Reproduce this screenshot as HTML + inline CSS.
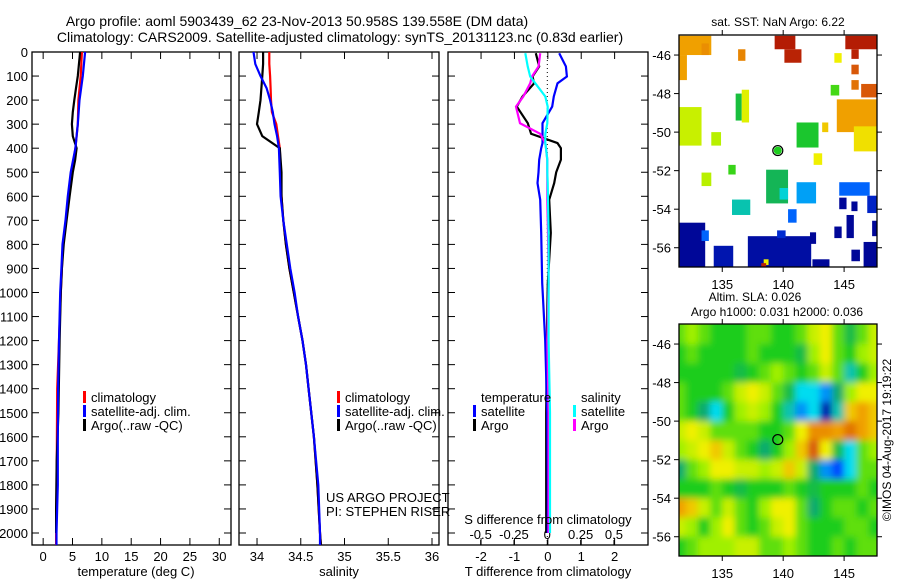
<!DOCTYPE html>
<html><head><meta charset="utf-8">
<style>
html,body{margin:0;padding:0;background:#fff;}
svg{display:block;font-family:"Liberation Sans",sans-serif;}
</style></head>
<body>
<svg id="chart" width="900" height="580" viewBox="0 0 900 580" xmlns="http://www.w3.org/2000/svg">
<defs>
<filter id="blur" x="-10%" y="-10%" width="120%" height="120%"><feGaussianBlur stdDeviation="3.5"/></filter>
<clipPath id="clipMap2"><rect x="679" y="324" width="198" height="232"/></clipPath>
<clipPath id="clipMap1"><rect x="679" y="35" width="198" height="232"/></clipPath>
</defs>
<text x="297" y="26" font-size="14" text-anchor="middle">Argo profile: aoml 5903439_62 23-Nov-2013 50.958S 139.558E (DM data)</text>
<text x="340" y="42" font-size="14" text-anchor="middle">Climatology: CARS2009. Satellite-adjusted climatology: synTS_20131123.nc (0.83d earlier)</text>
<text x="778" y="26" font-size="12" text-anchor="middle">sat. SST: NaN Argo: 6.22</text>
<text x="755" y="301" font-size="12" text-anchor="middle">Altim. SLA: 0.026</text>
<text x="777" y="316" font-size="12" text-anchor="middle">Argo h1000: 0.031 h2000: 0.036</text>
<text transform="translate(891,440) rotate(-90)" font-size="12" text-anchor="middle">©IMOS 04-Aug-2017 19:19:22</text>
<g id="g"></g>
</svg>
<script>
// ---------- profile data ----------
const tempDepth = [0,100,200,300,400,500,600,700,800,900,1000,1200,1400,1600,1800,2000,2050];
const tempClim  = [6.6,6.4,6.0,5.9,5.5,4.9,4.3,3.9,3.35,3.2,3.0,2.7,2.4,2.35,2.3,2.2,2.2];
const tempSat   = [7.15,6.75,6.2,5.9,5.5,4.7,4.2,3.8,3.3,3.1,2.9,2.7,2.55,2.5,2.5,2.27,2.27];
const argoDepth = [0,100,150,200,250,300,350,400,450,500,600,700,800,900,1000,1200,1500,1700,1900,2000];
const tempArgo  = [6.3,5.9,5.6,5.3,5.05,4.9,5.05,5.7,5.45,5.05,4.5,4.0,3.5,3.2,3.0,2.8,2.6,2.3,2.2,2.2];
const salDepth  = [0,50,100,150,200,250,300,350,400,500,600,700,800,900,1000,1100,1200,1300,1400,1600,1800,2000,2050];
const salClim   = [34.14,34.14,34.15,34.155,34.16,34.17,34.22,34.24,34.26,34.27,34.28,34.3,34.33,34.37,34.42,34.47,34.52,34.56,34.59,34.65,34.69,34.72,34.73];
const salSat    = [33.96,33.98,34.04,34.11,34.15,34.18,34.2,34.23,34.25,34.26,34.27,34.3,34.34,34.38,34.43,34.47,34.52,34.56,34.59,34.65,34.7,34.72,34.72];
const salArgo   = [34.07,34.07,34.06,34.05,34.04,34.02,34.0,34.06,34.26,34.28,34.28,34.3,34.33,34.37,34.42,34.47,34.52,34.56,34.59,34.65,34.69,34.72,34.73];
const diffDepth = [5,60,102,130,185,227,296,340,379,400,448,500,545,614,752,960,1200,1500,1800,2000];
const dTsat     = [0.34,0.54,0.57,0.29,0.18,0.13,-0.16,-0.16,-0.16,-0.2,-0.26,-0.28,-0.31,-0.23,-0.2,-0.17,-0.08,-0.02,0.0,0.0];
const dTargo    = [-0.36,-0.26,-0.46,-0.41,-0.76,-0.93,-0.6,-0.5,0.29,0.39,0.39,0.25,0.19,0.04,0.09,0.0,-0.03,-0.05,-0.05,-0.05];
const dSargo    = [-0.053,-0.065,-0.115,-0.128,-0.18,-0.235,-0.205,-0.053,-0.015,-0.01,0.0,0.0,0.0,0.0,0.005,0.01,0.0,0.01,0.01,0.01];
const dSsat     = [-0.165,-0.147,-0.128,-0.09,-0.015,0.003,0.0,-0.015,-0.015,-0.01,0.0,0.0,0.003,0.005,0.01,0.01,0.01,0.02,0.02,0.02];
const depthTicks = [0,100,200,300,400,500,600,700,800,900,1000,1100,1200,1300,1400,1500,1600,1700,1800,1900,2000];
const tempTicks = [0,5,10,15,20,25,30];
const salTicks = [34,34.5,35,35.5,36];
const salTickLabels = ["34","34.5","35","35.5","36"];
const tdTicks = [-2,-1,0,1,2];
const sdTicks = [-0.5,-0.25,0,0.25,0.5];
const sdTickLabels = ["-0.5","-0.25","0","0.25","0.5"];
// ---------- map data ----------
const mapLonTicks = [135,140,145];
const mapLatTicks = [-46,-48,-50,-52,-54,-56];
const argoLon = 139.558, argoLat = -50.958;
const slaLons = [131.5,132.5,133.5,134.5,135.5,136.5,137.5,138.5,139.5,140.5,141.5,142.5,143.5,144.5,145.5,146.5,147.5];
const slaLats = [-45.5,-46.5,-47.5,-48.5,-49.5,-50.5,-51.5,-52.5,-53.5,-54.5,-55.5,-56.5];
const slaGrid = [
[4.5,5,4.5,4,4,4,4.5,4.5,4,4,4.5,5.5,6,4.5,3.5,4.5,5.5],
[4,4.5,4,4,4,4,4.5,4,4,4,3.5,5,6,4.5,4,5,5.5],
[4,4,4,4,4,3.5,4,4.5,5,4.5,4,4.5,5.5,4.5,2.5,4,5],
[4.5,4,4,4,4.5,5.5,6,5.5,4.5,3.5,2,2,1.5,3,5,6,6],
[4.5,4,3,2,4,5,5.5,5,4,2.5,1.5,2,0.3,2.5,6.5,7,6.5],
[5.5,6,5.5,4.5,4.5,4.5,4.5,4,4,4.5,6,7.2,7.2,7,7.5,7,6.5],
[5,5.5,6,6.5,5.5,4.5,4,3,4,5,6.5,7.8,6,3.5,2,4.5,5],
[3,4.5,5,6,6,5.5,5.5,5,5.5,6.5,5.5,3,1.5,1,2,4.5,4.5],
[4,4,4,4.5,4,3.5,4,4,4,4.5,4,3.5,4,4,4,4.5,4],
[7,6.5,5.5,4.5,5.5,4.5,4,5,6,6,4.5,3,4,4.5,4.5,4,4.5],
[5.5,5,4,5,6,4.5,4,4.5,5.5,6,4.5,4,4,4,4.5,4.5,4],
[4,4.5,5,5,5,5.5,5.5,4.5,4.5,5,4.5,4,4,4.5,4,4.5,4.5]];
// SST patches: [lon0, lon1, lat0(top), lat1(bottom), value]
const sstPatches = [
[131.4,134.1,-45,-46,7],[131.4,132.1,-46,-47.3,7],[133.3,133.9,-45.4,-46,7.2],
[139.3,141,-45,-45.7,8.6],[140.1,141.5,-45.7,-46.4,8.5],[145.1,147.7,-45,-45.7,8.6],[145.6,146.2,-45.7,-46.2,8.5],
[136.3,136.9,-45.7,-46.3,7.3],[144.2,144.8,-45.9,-46.4,6],[145.6,146.2,-46.5,-47,7.8],
[145.6,146.2,-47.3,-47.8,7.5],[146.4,147.7,-47.5,-48.2,7.8],[143.9,144.6,-47.55,-48.1,4.3],
[136.1,136.6,-48,-49.4,3.6],[136.6,137.2,-47.8,-49.5,5.8],
[131.4,133.3,-48.7,-50.7,5.5],[134.1,134.9,-50,-50.7,5.3],
[141.1,142.9,-49.5,-50.8,3.8],[143.2,143.7,-49.5,-50,6.5],
[144.4,147.7,-48.3,-50,7],[145.8,147.7,-49.7,-51,6.2],
[142.5,143.2,-51.1,-51.7,6],[135.5,136.1,-51.7,-52.2,4.2],[133.3,134.1,-52.1,-52.8,5.3],
[138.6,140.4,-51.95,-53.7,3.3],[139.7,140.4,-52.9,-53.5,2.2],[141.1,142.7,-52.6,-53.7,1.6],
[135.8,137.3,-53.5,-54.3,2.5],[140.4,141.1,-54,-54.7,1.2],[144.6,147.1,-52.6,-53.3,1.2],
[144.6,145.2,-53.4,-54,0.1],[145.6,146.1,-53.6,-54.1,0.1],[146.9,147.7,-53.3,-54.2,0.5],
[144.2,144.8,-54.9,-55.5,0.1],[145.2,145.8,-54.3,-55.5,0.1],[147.3,147.7,-54.6,-55.4,0.1],
[131.4,133.6,-54.7,-57,0.1],[133.3,133.9,-55.1,-55.65,1.2],[134.3,135.9,-55.9,-57,0.3],[137.1,142.3,-55.4,-57,0.2],
[139.5,140.2,-55.1,-55.5,0.6],[142.2,142.7,-55.2,-55.8,0.1],[142.4,143.8,-56.6,-57,0.1],
[145.6,146.3,-56.1,-56.7,0.1],[146.6,147.7,-55.7,-57,0.1],[138.4,138.8,-56.6,-56.9,6],[138.2,138.6,-56.8,-57,8.5]];

const NS="http://www.w3.org/2000/svg";
const root=document.getElementById('g');
function mk(tag,attrs,parent){const e=document.createElementNS(NS,tag);for(const k in attrs)e.setAttribute(k,attrs[k]);(parent||root).appendChild(e);return e;}
function txt(x,y,s,size,anchor,parent){const t=mk('text',{x:x,y:y,'font-size':size,'text-anchor':anchor||'middle'},parent);t.textContent=s;return t;}

// ---------- profile panels ----------
const PT=52, PB=545;
const yD=d=>PT+d*0.2405;
const panels=[
 {name:'temperature-panel',x0:32,x1:231,lo:-1.9,hi:32},
 {name:'salinity-panel',x0:239,x1:439,lo:33.794,hi:36.08},
 {name:'difference-panel',x0:448,x1:648,lo:-2.99,hi:3.0}];
const fx=(p,v)=>p.x0+(v-p.lo)/(p.hi-p.lo)*(p.x1-p.x0);
const sx=v=>547.3+v*133.3;

panels.forEach((p,i)=>{
  const g=mk('g',{});
  
  
  p.g=g;
  const fr=mk('rect',{x:p.x0,y:PT,width:p.x1-p.x0,height:PB-PT,fill:'none',stroke:'#000','stroke-width':1.3},g);
  
  
  depthTicks.forEach(d=>{
    mk('line',{x1:p.x0,x2:p.x0+7,y1:yD(d),y2:yD(d),stroke:'#000'},g);
    mk('line',{x1:p.x1,x2:p.x1-7,y1:yD(d),y2:yD(d),stroke:'#000'},g);
  });
});
depthTicks.forEach(d=>{
  const t=txt(28,yD(d)+5,String(d),13,'end');
  
  
});
function xTicks(p,vals,labels,fn,ylab){
  vals.forEach((v,i)=>{
    const x=fn(v);
    mk('line',{x1:x,x2:x,y1:PB,y2:PB-7,stroke:'#000'},p.g);
    mk('line',{x1:x,x2:x,y1:PT,y2:PT+7,stroke:'#000'},p.g);
    if(ylab){const t=txt(x,ylab,labels[i],13,'middle',p.g);
      
      }
  });
}
xTicks(panels[0],tempTicks,tempTicks.map(String),v=>fx(panels[0],v),561);
xTicks(panels[1],salTicks,salTickLabels,v=>fx(panels[1],v),561);
xTicks(panels[2],tdTicks,tdTicks.map(String),v=>fx(panels[2],v),561);
sdTicks.forEach((v,i)=>{
  const x=sx(v);
  mk('line',{x1:x,x2:x,y1:PB,y2:PB-5,stroke:'#000'},panels[2].g);
  const t=txt(x,539,sdTickLabels[i],13,'middle',panels[2].g);
  
  
});
[['temperature (deg C)',136,'x-axis-title-temperature'],['salinity',339,'x-axis-title-salinity'],['T difference from climatology',548,'x-axis-title-t-difference']].forEach(a=>{
  const t=txt(a[1],576,a[0],13);
  
  
});
const sdt=txt(548,524,'S difference from climatology',13);


mk('line',{x1:547.3,x2:547.3,y1:PT,y2:PB,stroke:'#000','stroke-dasharray':'1,3'},panels[2].g);

function line(p,depths,vals,fn,color,name){
  const pts=depths.map((d,i)=>fn(vals[i]).toFixed(1)+','+yD(d).toFixed(1)).join(' ');
  const l=mk('polyline',{points:pts,fill:'none',stroke:color,'stroke-width':2.2},p.g);
  
  
}
const P0=panels[0],P1=panels[1],P2=panels[2];
line(P0,tempDepth,tempClim,v=>fx(P0,v),'#ff0000','temp-climatology-line');
line(P0,argoDepth,tempArgo,v=>fx(P0,v),'#000000','temp-argo-line');
line(P0,tempDepth,tempSat,v=>fx(P0,v),'#0000ff','temp-satellite-line');
line(P1,salDepth,salClim,v=>fx(P1,v),'#ff0000','sal-climatology-line');
line(P1,salDepth,salArgo,v=>fx(P1,v),'#000000','sal-argo-line');
line(P1,salDepth,salSat,v=>fx(P1,v),'#0000ff','sal-satellite-line');
line(P2,diffDepth,dTargo,v=>fx(P2,v),'#000000','t-diff-argo-line');
line(P2,diffDepth,dTsat,v=>fx(P2,v),'#0000ff','t-diff-satellite-line');
line(P2,diffDepth,dSargo,sx,'#ff00ff','s-diff-argo-line');
line(P2,diffDepth,dSsat,sx,'#00ffff','s-diff-satellite-line');

function legend(g,x,y,items){
  items.forEach((it,i)=>{
    const yy=y+i*14;
    const m=mk('rect',{x:x,y:yy-11,width:3,height:12,fill:it[1]},g);
    
    
    const t=txt(x+8,yy,it[0],13,'start',g);
    
    
  });
}
legend(P0.g,83,402,[['climatology','#ff0000'],['satellite-adj. clim.','#0000ff'],['Argo(..raw -QC)','#000']]);
legend(P1.g,337,402,[['climatology','#ff0000'],['satellite-adj. clim.','#0000ff'],['Argo(..raw -QC)','#000']]);
const lt=txt(481,402,'temperature',13,'start',P2.g);
const ls=txt(581,402,'salinity',13,'start',P2.g);
legend(P2.g,473,416,[['satellite','#0000ff'],['Argo','#000']]);
legend(P2.g,573,416,[['satellite','#00ffff'],['Argo','#ff00ff']]);
const c1=txt(326,502,'US ARGO PROJECT',13,'start',P1.g);
const c2=txt(326,516,'PI: STEPHEN RISER',13,'start',P1.g);

// ---------- maps ----------
const cmap=[[0,0,140],[0,70,255],[0,220,240],[16,170,110],[30,205,30],[160,240,0],[240,240,0],[240,160,0],[210,70,10],[160,0,0]];
function col(v){v=Math.max(0,Math.min(9,v));const i=Math.min(8,Math.floor(v)),f=v-i;const a=cmap[i],b=cmap[i+1];
  return 'rgb('+a.map((c,k)=>Math.round(c+(b[k]-c)*f)).join(',')+')';}
function mapAxes(top,name){
  const M={x0:679,x1:877,y0:top,y1:top+232,lon0:131.45,lon1:147.7,lat0:-44.96,lat1:-57.0};
  M.X=lon=>M.x0+(lon-M.lon0)/(M.lon1-M.lon0)*(M.x1-M.x0);
  M.Y=lat=>M.y0+(lat-M.lat0)/(M.lat1-M.lat0)*(M.y1-M.y0);
  M.g=mk('g',{});
  
  
  return M;
}
function mapFrame(M){
  mk('rect',{x:M.x0,y:M.y0,width:M.x1-M.x0,height:M.y1-M.y0,fill:'none',stroke:'#000','stroke-width':1.3},M.g);
  mapLonTicks.forEach(l=>{const x=M.X(l);
    mk('line',{x1:x,x2:x,y1:M.y1,y2:M.y1+5,stroke:'#000'},M.g);
    mk('line',{x1:x,x2:x,y1:M.y0,y2:M.y0-5,stroke:'#000'},M.g);
    const t=txt(x,M.y1+22,String(l),13,'middle',M.g);
    
    });
  mapLatTicks.forEach(l=>{const y=M.Y(l);
    mk('line',{x1:M.x0-5,x2:M.x0,y1:y,y2:y,stroke:'#000'},M.g);
    mk('line',{x1:M.x1,x2:M.x1+5,y1:y,y2:y,stroke:'#000'},M.g);
    const t=txt(M.x0-8,y+5,'-'+Math.abs(l),13,'end',M.g);
    
    });
  const c=mk('circle',{cx:M.X(argoLon),cy:M.Y(argoLat),r:5,fill:'none',stroke:'#000','stroke-width':1.2},M.g);
  
  
}
const M1=mapAxes(35,'sst-map');
const g1=mk('g',{'clip-path':'url(#clipMap1)'},M1.g);
sstPatches.forEach(p=>{
  const r=mk('rect',{x:M1.X(p[0]),y:M1.Y(p[2]),width:M1.X(p[1])-M1.X(p[0]),height:M1.Y(p[3])-M1.Y(p[2]),fill:col(p[4])},g1);
  
  
});
const ad=mk('circle',{cx:M1.X(argoLon),cy:M1.Y(argoLat),r:4,fill:col(4)},M1.g);


mapFrame(M1);
const M2=mapAxes(324,'sla-map');
const g2o=mk('g',{'clip-path':'url(#clipMap2)'},M2.g);
const g2=mk('g',{filter:'url(#blur)'},g2o);
slaGrid.forEach((row,r)=>{
  row.forEach((v,c)=>{
    let lat0=slaLats[r]+0.5, lat1=slaLats[r]-0.5, lon0=slaLons[c]-0.5, lon1=slaLons[c]+0.5;
    if(r===0)lat0+=1.5; if(r===slaGrid.length-1)lat1-=1.5;
    if(c===0)lon0-=1.5; if(c===row.length-1)lon1+=1.5;
    const e=mk('rect',{x:M2.X(lon0),y:M2.Y(lat0),width:M2.X(lon1)-M2.X(lon0)+0.5,height:M2.Y(lat1)-M2.Y(lat0)+0.5,fill:col(v)},g2);
    
    
  });
});
mapFrame(M2);
</script>
</body></html>
